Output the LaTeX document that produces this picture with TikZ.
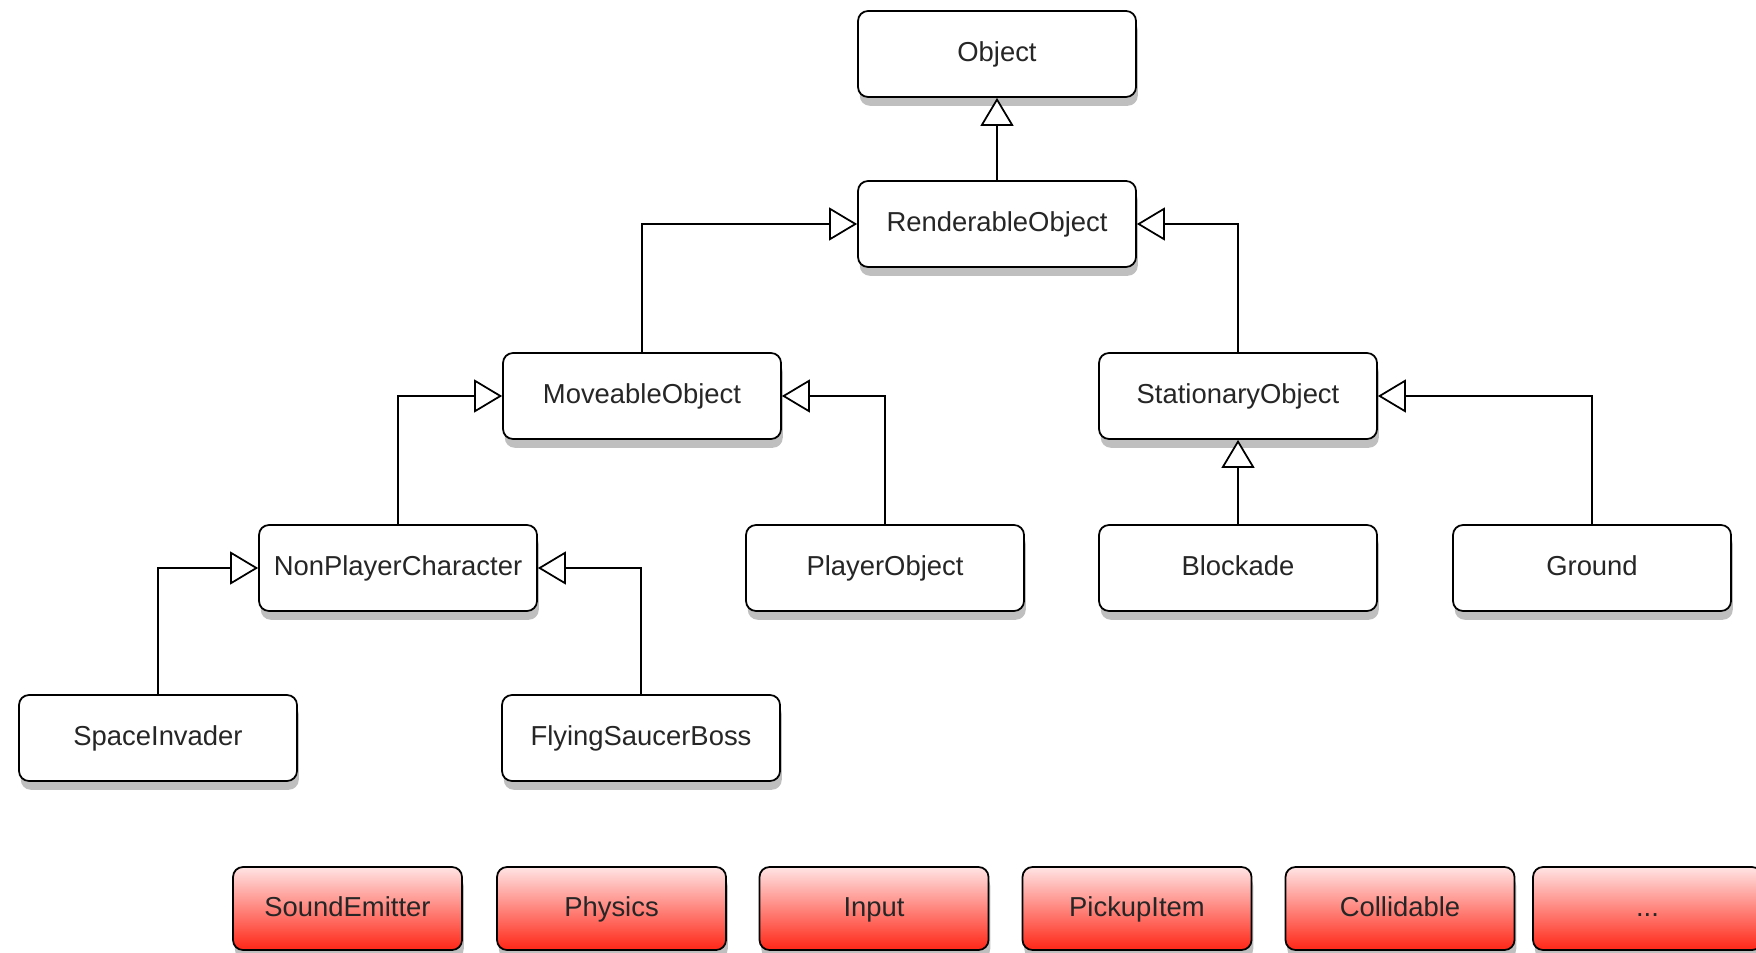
\documentclass[tikz,border=0pt]{standalone}
\usepackage{fontspec}
\setmainfont{Liberation Sans}
\usepackage{xcolor}
\usetikzlibrary{arrows.meta,shapes,positioning,shadows}

\definecolor{mixintop}{RGB}{255,228,228}
\definecolor{mixinbottom}{RGB}{255,38,22}

\tikzset{
  classbox/.style={draw, line width=1pt, rounded corners=0.2cm, fill=white,
    minimum width=5.56cm, minimum height=1.72cm, text=black!85,
    text height=2.1ex, text depth=0.45ex,
    font=\fontsize{15.6}{18}\selectfont,
    drop shadow={shadow xshift=1pt, shadow yshift=-5pt, fill=black!50, opacity=0.5}},
  mixinbox/.style={classbox, minimum width=4.58cm, minimum height=1.66cm,
    top color=mixintop, bottom color=mixinbottom},
  inherits/.style={draw, line width=1pt, -{Triangle[open, length=0.56cm, width=0.66cm, fill=white]}}
}

\begin{document}
\begin{tikzpicture}
            \useasboundingbox (0,0) rectangle (35.12,-19.06);
            % class hierarchy
            \node[classbox] (object) at (19.94,-1.08) {Object};
            \node[classbox] (renderable) at (19.94,-4.48) {RenderableObject};
            \node[classbox] (moveable) at (12.84,-7.92) {MoveableObject};
            \node[classbox] (stationary) at (24.76,-7.92) {StationaryObject};
            \node[classbox] (npc) at (7.96,-11.36) {NonPlayerCharacter};
            \node[classbox] (player) at (17.70,-11.36) {PlayerObject};
            \node[classbox] (blockade) at (24.76,-11.36) {Blockade};
            \node[classbox] (ground) at (31.84,-11.36) {Ground};
            \node[classbox] (invader) at (3.16,-14.76) {SpaceInvader};
            \node[classbox] (saucer) at (12.82,-14.76) {FlyingSaucerBoss};

            \draw[inherits] (renderable) -- (object);
            \draw[inherits] (moveable) |- (renderable);
            \draw[inherits] (stationary) |- (renderable);
            \draw[inherits] (npc) |- (moveable);
            \draw[inherits] (player) |- (moveable);
            \draw[inherits] (blockade) -- (stationary);
            \draw[inherits] (ground) |- (stationary);
            \draw[inherits] (invader) |- (npc);
            \draw[inherits] (saucer) |- (npc);

            % components
            \node[mixinbox] (sound) at (6.95,-18.17) {SoundEmitter};
            \node[mixinbox] (physics) at (12.23,-18.17) {Physics};
            \node[mixinbox] (input) at (17.48,-18.17) {Input};
            \node[mixinbox] (pickup) at (22.74,-18.17) {PickupItem};
            \node[mixinbox] (collidable) at (28.00,-18.17) {Collidable};
            \node[mixinbox] (more) at (32.95,-18.17) {...};
        \end{tikzpicture}
\end{document}
